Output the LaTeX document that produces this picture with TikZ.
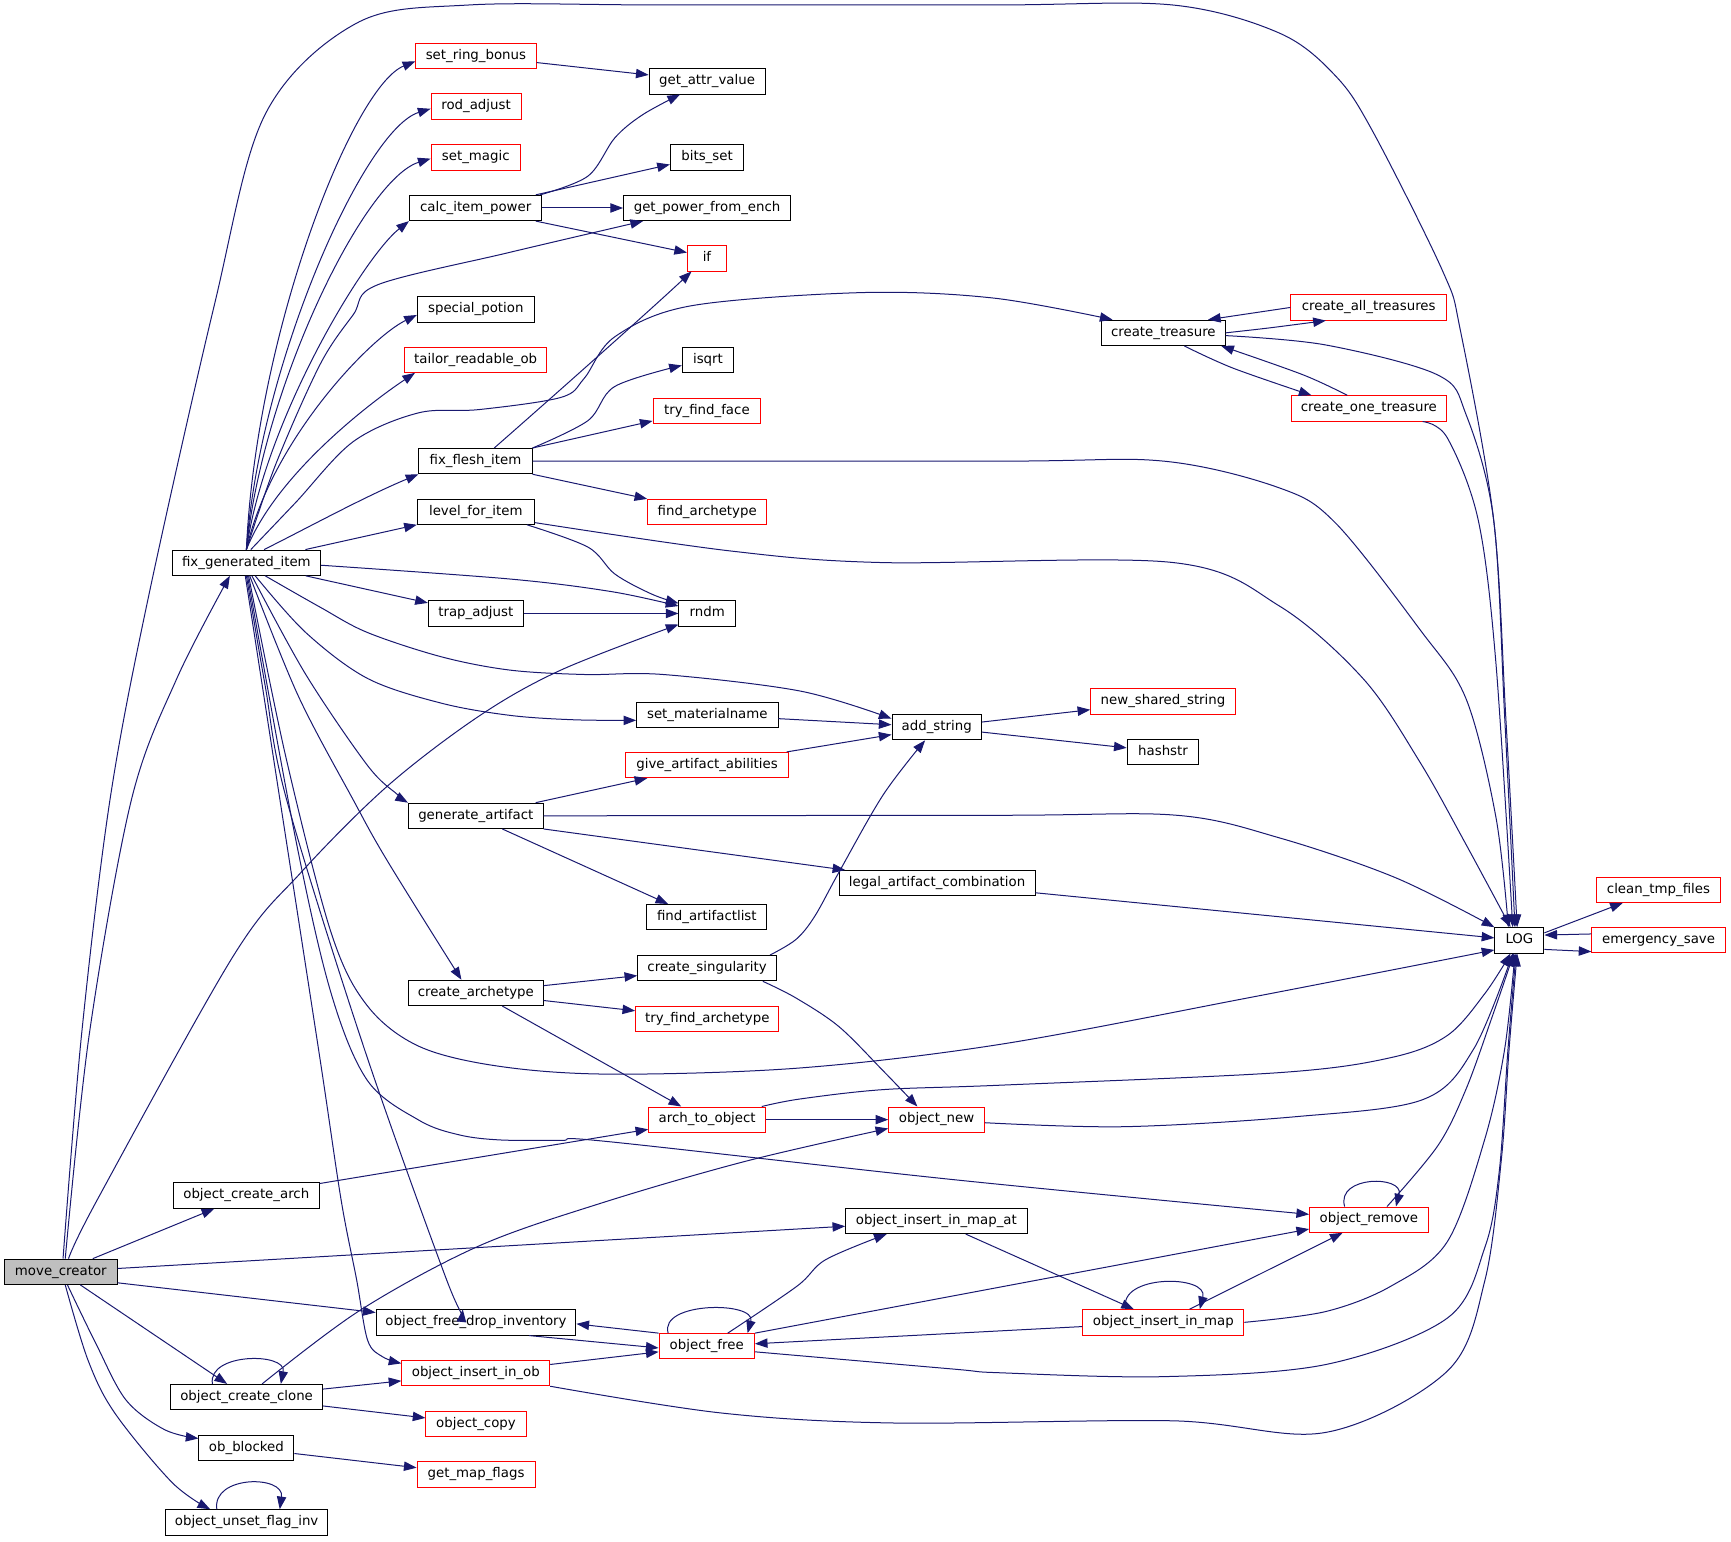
\documentclass[tikz,border=0pt]{standalone}
\usepackage{fontspec}
\setmainfont{DejaVu Sans}
\usetikzlibrary{arrows.meta,calc}
\definecolor{edgec}{RGB}{25,25,112}
\definecolor{rootfill}{RGB}{191,191,191}
\def\U{0.82797pt}
\begin{document}
\begin{tikzpicture}[x=0.82797pt,y=-0.82797pt,
  nb/.style={draw=black,line width=0.7pt,fill=white,inner sep=0pt,minimum height=19pt,
    text height=7.3pt,text depth=2.3pt,font=\fontsize{10pt}{12pt}\selectfont},
  nr/.style={nb,draw=red},
  ed/.style={draw=edgec,line width=0.75pt,-{Triangle[length=9.5pt,width=7pt]}},
  sm/.style={smooth,tension=0.55}]
\useasboundingbox (0,0) rectangle (1568,1396);
% nodes
\node[nb,fill=rootfill,minimum width=102*\U] (mc) at (55.1,1152) {move\_creator};
\node[nb,minimum width=134*\U] (fgi) at (223.2,509.7) {fix\_generated\_item};
\node[nr,minimum width=109*\U] (srb) at (431.1,50.6) {set\_ring\_bonus};
\node[nr,minimum width=81.5*\U] (rod) at (431.2,96.5) {rod\_adjust};
\node[nr,minimum width=81*\U] (smag) at (431,142.7) {set\_magic};
\node[nb,minimum width=120*\U] (cip) at (430.9,188.4) {calc\_item\_power};
\node[nb,minimum width=106*\U] (sp) at (431,280.3) {special\_potion};
\node[nr,minimum width=129*\U] (tro) at (430.9,325.8) {tailor\_readable\_ob};
\node[nb,minimum width=102.6*\U] (ffi) at (430.7,417.7) {fix\_flesh\_item};
\node[nb,minimum width=106*\U] (lfi) at (431,463.5) {level\_for\_item};
\node[nb,minimum width=86*\U] (ta) at (431,555.7) {trap\_adjust};
\node[nb,minimum width=128*\U] (smn) at (640.7,647.5) {set\_materialname};
\node[nr,minimum width=147*\U] (gaa) at (640.5,693) {give\_artifact\_abilities};
\node[nb,minimum width=122*\U] (ga) at (431,739) {generate\_artifact};
\node[nb,minimum width=108.6*\U] (fal) at (640.3,830.8) {find\_artifactlist};
\node[nb,minimum width=125.7*\U] (cs) at (640.5,877) {create\_singularity};
\node[nb,minimum width=122*\U] (ca) at (431,899.4) {create\_archetype};
\node[nr,minimum width=129.8*\U] (tfa) at (640.7,922.9) {try\_find\_archetype};
\node[nr,minimum width=106*\U] (ato) at (640.6,1014.2) {arch\_to\_object};
\node[nr,minimum width=86.8*\U] (onew) at (848.4,1014.2) {object\_new};
\node[nb,minimum width=131.7*\U] (oca) at (223.1,1083) {object\_create\_arch};
\node[nb,minimum width=164.3*\U] (oima) at (848.2,1106) {object\_insert\_in\_map\_at};
\node[nr,minimum width=107.5*\U] (orem) at (1240,1104.8) {object\_remove};
\node[nb,minimum width=181*\U] (ofdi) at (431.2,1197.9) {object\_free\_drop\_inventory};
\node[nr,minimum width=86.3*\U] (ofree) at (640.2,1219.5) {object\_free};
\node[nr,minimum width=146*\U] (oim) at (1053.8,1197.8) {object\_insert\_in\_map};
\node[nr,minimum width=134*\U] (oiob) at (431,1243.8) {object\_insert\_in\_ob};
\node[nb,minimum width=137.6*\U] (occ) at (223.4,1265.5) {object\_create\_clone};
\node[nr,minimum width=90.8*\U] (ocp) at (431.2,1289.7) {object\_copy};
\node[nb,minimum width=86*\U] (obb) at (223.2,1311.6) {ob\_blocked};
\node[nr,minimum width=106.8*\U] (gmf) at (431.2,1335.7) {get\_map\_flags};
\node[nb,minimum width=147.3*\U] (ounf) at (223.4,1379) {object\_unset\_flag\_inv};
\node[nb,minimum width=105*\U] (gav) at (640.5,73.7) {get\_attr\_value};
\node[nb,minimum width=66.6*\U] (bs) at (640.5,142.7) {bits\_set};
\node[nb,minimum width=151.4*\U] (gpfe) at (640.5,188.4) {get\_power\_from\_ench};
\node[nr,minimum width=35.3*\U] (iff) at (640.4,234) {if};
\node[nb,minimum width=46.5*\U] (isq) at (641.3,325.8) {isqrt};
\node[nr,minimum width=97.5*\U] (tff) at (640.3,372) {try\_find\_face};
\node[nr,minimum width=107.8*\U] (fa) at (640.6,463.8) {find\_archetype};
\node[nb,minimum width=51.4*\U] (rn) at (640.7,555.7) {rndm};
\node[nb,minimum width=112*\U] (ct) at (1053.8,301.5) {create\_treasure};
\node[nr,minimum width=141*\U] (cat) at (1239.8,278.5) {create\_all\_treasures};
\node[nr,minimum width=140.6*\U] (cot) at (1240,370) {create\_one\_treasure};
\node[nb,minimum width=81*\U] (astr) at (848.5,658.7) {add\_string};
\node[nr,minimum width=131*\U] (nss) at (1053.5,635.4) {new\_shared\_string};
\node[nb,minimum width=65*\U] (hs) at (1053.5,681) {hashstr};
\node[nb,minimum width=177.4*\U] (lac) at (848.8,800) {legal\_artifact\_combination};
\node[nb,minimum width=44.5*\U] (LOGn) at (1376.3,851.8) {LOG};
\node[nr,minimum width=112.6*\U] (ctf) at (1502.3,806) {clean\_tmp\_files};
\node[nr,minimum width=120.8*\U] (es) at (1502.4,851.6) {emergency\_save};
% move_creator
\draw[ed] plot[sm] coordinates {([xshift=2*\U]mc.north) (74,936) (99.6,724.6) (134,543) (194,277) (240,104) (323,21) (425,4.5) (600,4.5) (900,4.5) (1062,4.5) (1159,30) (1210,69) (1244,120) (1307,246) (1323,300) (1353,471) (1364,650) ([xshift=-2*\U]LOGn.north)};
\draw[ed] plot[sm] coordinates {([xshift=4*\U]mc.north) (81,936) (119,724.6) (160,615) ([xshift=-15*\U]fgi.south)};
\draw[ed] plot[sm] coordinates {([xshift=7*\U]mc.north) (88,1087) (211,866.5) (272,791) (351,712) (434,648.6) (508,607) ([yshift=-10*\U]rn.west)};
\draw[ed] (mc) -- (oca);
\draw[ed] (mc) -- (oima);
\draw[ed] ([yshift=-10*\U]mc.east) -- ([yshift=9*\U]ofdi.west);
\draw[ed] (mc) -- (occ);
\draw[ed] plot[sm] coordinates {([xshift=6*\U]mc.south) (86.7,1216.7) (114,1268) (149,1295) ([yshift=8.6*\U]obb.west)};
\draw[ed] plot[sm] coordinates {([xshift=4*\U]mc.south) (79.7,1232) (104,1280) (156,1343) ([xshift=-33*\U]ounf.north)};
\draw[ed] ([xshift=-27*\U]ounf.north) .. controls (192,1336) and (258,1336) .. ([xshift=30*\U]ounf.north);
% object_create_clone
\draw[ed] ([xshift=-31*\U]occ.north) .. controls (188,1225) and (260,1225) .. ([xshift=31*\U]occ.north);
\draw[ed] plot[sm] coordinates {([xshift=14*\U]occ.north) (326,1187) (433,1129) (544,1090) (675,1052) ([yshift=-8*\U]onew.west)};
\draw[ed] (occ) -- (oiob);
\draw[ed] (occ) -- (ocp);
\draw[ed] (obb) -- (gmf);
\draw[ed] (oca) -- (ato);
% fix_generated_item, upper fan
\draw[ed] (fgi.north) .. controls (232,300) and (320,78) .. ([yshift=-5*\U]srb.west);
\draw[ed] (fgi.north) .. controls (235,330) and (330,117) .. ([yshift=-2*\U]rod.west);
\draw[ed] (fgi.north) .. controls (238,350) and (330,162) .. ([yshift=-1*\U]smag.west);
\draw[ed] (fgi.north) .. controls (240,380) and (330,232) .. (cip.south west);
\draw[ed] plot[sm] coordinates {(fgi.north) (250,420) (290,330) (320,285) (342,258) (460,229) ([xshift=-58*\U]gpfe.south)};
\draw[ed] (fgi.north) .. controls (245,400) and (335,306) .. ([yshift=-5*\U]sp.west);
\draw[ed] (fgi.north) .. controls (250,430) and (335,365) .. ([xshift=10*\U]tro.south west);
\draw[ed] plot[sm] coordinates {([xshift=4*\U]fgi.north) (268,455) (320,400) (379,374) (434,371) (508,360) (529,343) (557,305) (626,277) (782,265) (900,270) ([xshift=-46*\U]ct.north)};
\draw[ed] ([xshift=16*\U]fgi.north) .. controls (275,480) and (330,450) .. (ffi.south west);
\draw[ed] (fgi) -- (lfi);
% fix_generated_item, lower fan
\draw[ed] plot[sm] coordinates {([yshift=-2.3*\U]fgi.east) (462,524.5) (554.5,536) ([yshift=6.7*\U]rn.west)};
\draw[ed] (fgi) -- (ta);
\draw[ed] plot[sm] coordinates {([xshift=17*\U]fgi.south) (290,550) (333,573) (400,595) (462,607) (530,611) (601,611) (725,626) ([yshift=7.7*\U]astr.west)};
\draw[ed] plot[sm] coordinates {([xshift=8*\U]fgi.south) (277,573) (333,614.6) (400,637) (462,648) (520,652) ([yshift=-5*\U]smn.west)};
\draw[ed] plot[sm] coordinates {([xshift=5*\U]fgi.south) (277,611) (333,693.5) (360,719.7) (ga.north west)};
\draw[ed] plot[sm] coordinates {([xshift=3*\U]fgi.south) (270,630) (320,724.6) (351,780) ([xshift=-13*\U]ca.north)};
\draw[ed] plot[sm] coordinates {([xshift=2*\U]fgi.south) (259,686) (300,845) (332.7,911) (380,948) (453,966) (554.5,973) (724.6,967.4) (906,946) (1130,904) ([yshift=-8.7*\U]LOGn.west)};
\draw[ed] plot[sm] coordinates {([xshift=1*\U]fgi.south) (268,761) (300,900) (333,979) (380,1015) (416,1028) (453,1032.6) (508,1033) (550,1034) (868,1069) ([yshift=4.8*\U]orem.west)};
\draw[ed] plot[sm] coordinates {(fgi.south) (240,620) (259.7,724.6) (330,950) (404.6,1159.4) ([xshift=-12*\U]ofdi.north)};
\draw[ed] plot[sm] coordinates {([xshift=-1*\U]fgi.south) (253.6,724.6) (290,960) (309,1087) (323,1159) (333,1214) (346.6,1229) ([yshift=8.8*\U]oiob.west)};
% set_ring_bonus, calc_item_power
\draw[ed] (srb) -- (gav);
\draw[ed] plot[sm] coordinates {([xshift=-2*\U]cip.north east) (532.6,159.5) (557,124.8) (582,104) ([xshift=-24.5*\U]gav.south)};
\draw[ed] ([xshift=-6*\U]cip.north east) -- ([yshift=-6.3*\U]bs.west);
\draw[ed] (cip) -- (gpfe);
\draw[ed] ([xshift=-6*\U]cip.south east) -- ([yshift=5.2*\U]iff.west);
% fix_flesh_item
\draw[ed] ([xshift=17*\U]ffi.north) .. controls (500,360) and (590,280) .. ([xshift=-14*\U]iff.south);
\draw[ed] plot[sm] coordinates {(ffi.north east) (532.6,381) (557,350) ([yshift=-5.2*\U]isq.west)};
\draw[ed] (ffi.north east) -- ([yshift=-9.3*\U]tff.west);
\draw[ed] plot[sm] coordinates {(ffi.east) (906,417.7) (1054,417.7) (1159,442) (1210,474) (1286,570) (1328,633) (1355,740) ([xshift=-10*\U]LOGn.north)};
\draw[ed] (ffi.south east) -- (fa.north west);
% level_for_item
\draw[ed] plot[sm] coordinates {([xshift=-7*\U]lfi.south east) (532.6,495.6) (557,520) (590,538) ([yshift=9.2*\U]rn.west)};
\draw[ed] plot[sm] coordinates {([yshift=2*\U]lfi.south east) (661,499) (799.5,509.6) (1062,509.5) (1159,549) (1235,615) (1286,690) (1328,765) ([xshift=-8*\U]LOGn.north)};
\draw[ed] (ta) -- (rn);
% add_string
\draw[ed] (smn) -- (astr);
\draw[ed] (gaa) -- (astr);
\draw[ed] (astr) -- (nss);
\draw[ed] (astr) -- (hs);
% generate_artifact
\draw[ed] (ga) -- (gaa);
\draw[ed] plot[sm] coordinates {(ga.east) (906,738.5) (1066,738.5) (1159,759) (1264,795) (LOGn.north west)};
\draw[ed] (ga.south east) -- ([xshift=6*\U]lac.north west);
\draw[ed] ([xshift=24*\U]ga.south) -- ([xshift=-35*\U]fal.north);
\draw[ed] (lac) -- (LOGn);
% create_singularity
\draw[ed] plot[sm] coordinates {([xshift=57*\U]cs.north) (721,851) (738,830) (760,790) (800,720) ([xshift=-10.5*\U]astr.south)};
\draw[ed] plot[sm] coordinates {([xshift=50.5*\U]cs.south) (721,904) (760,930) (800,970) ([xshift=-17.4*\U]onew.north)};
% create_archetype
\draw[ed] (ca) -- (cs);
\draw[ed] (ca) -- (tfa);
\draw[ed] ([xshift=24*\U]ca.south) -- ([xshift=-23.5*\U]ato.north);
% arch_to_object, object_new
\draw[ed] (ato) -- (onew);
\draw[ed] plot[sm] coordinates {([xshift=-4*\U]ato.north east) (724.6,995.5) (800,987) (906,983) (1159,971.6) (1260,958) (1311,938) (1345,900) ([xshift=-8*\U]LOGn.south)};
\draw[ed] plot[sm] coordinates {([yshift=-2.8*\U]onew.east) (1018,1020.6) (1174,1011.5) (1289,996) (1335,950) ([xshift=-6*\U]LOGn.south)};
% object_remove
\draw[ed] plot[sm] coordinates {([xshift=16.4*\U]orem.north) (1302.5,1037.7) (1328,986.5) (1352,920) ([xshift=-5*\U]LOGn.south)};
\draw[ed] ([xshift=-22*\U]orem.north) .. controls (1210,1064.5) and (1272,1064.5) .. ([xshift=24.5*\U]orem.north);
% object_insert_in_map_at, object_insert_in_map
\draw[ed] (oima) -- (oim);
\draw[ed] (oim) -- (orem);
\draw[ed] (oim) -- (ofree);
\draw[ed] plot[sm] coordinates {(oim.east) (1201,1188) (1260,1165) (1311,1124.8) (1345,1031.7) (1363,950) ([xshift=-4*\U]LOGn.south)};
\draw[ed] ([xshift=-34*\U]oim.north) .. controls (1012,1154.3) and (1095,1154.3) .. ([xshift=33*\U]oim.north);
% object_free_drop_inventory, object_free
\draw[ed] ([xshift=48*\U]ofdi.south) -- ([yshift=-1.5*\U]ofree.west);
\draw[ed] (ofree.north west) -- ([yshift=-1.3*\U]ofdi.east);
\draw[ed] plot[sm] coordinates {([xshift=19*\U]ofree.north) (722,1165) (748,1141) ([xshift=-45*\U]oima.south)};
\draw[ed] (ofree.north east) -- ([yshift=-8.5*\U]orem.west);
\draw[ed] plot[sm] coordinates {([yshift=-5*\U]ofree.east) (862,1240) (906,1243.5) (1054,1247) (1201,1236) (1311,1194) (1345,1130) (1358,1061.6) (1366,950) ([xshift=-3*\U]LOGn.south)};
\draw[ed] ([xshift=-35*\U]ofree.north) .. controls (597,1178.7) and (685,1178.7) .. ([xshift=37*\U]ofree.north);
% object_insert_in_ob
\draw[ed] (oiob) -- (ofree);
\draw[ed] plot[sm] coordinates {(oiob.south east) (654,1280) (810,1289) (1062,1287) (1201,1297.5) (1311,1242) (1345,1160) (1360,1050) (1367,950) ([xshift=-2*\U]LOGn.south)};
% create_treasure
\draw[ed] plot[sm] coordinates {(ct.east) (1150,297) ([xshift=-38.8*\U]cat.south)};
\draw[ed] (cat.west) -- ([xshift=-16*\U]ct.north east);
\draw[ed] plot[sm] coordinates {([xshift=19*\U]ct.south) (1117,333.5) ([xshift=-52*\U]cot.north)};
\draw[ed] plot[sm] coordinates {([xshift=-19.6*\U]cot.north) (1180.3,339.5) ([xshift=-4*\U]ct.south east)};
\draw[ed] plot[sm] coordinates {([yshift=-2.5*\U]ct.east) (1201,312.5) (1302,339.5) (1328,375.5) (1353,471) (1363,650) ([xshift=-4*\U]LOGn.north)};
\draw[ed] plot[sm] coordinates {([xshift=-22*\U]cot.south east) (1311,396.6) (1339,471) (1355,600) ([xshift=-6*\U]LOGn.north)};
% LOG
\draw[ed] ([yshift=6.8*\U]LOGn.east) -- ([xshift=-32.3*\U]ctf.south);
\draw[ed] ([yshift=5.6*\U]es.west) -- ([yshift=4.8*\U]LOGn.east);
\draw[ed] ([yshift=-8.2*\U]LOGn.east) -- ([yshift=-10.4*\U]es.west);
\end{tikzpicture}
\end{document}
